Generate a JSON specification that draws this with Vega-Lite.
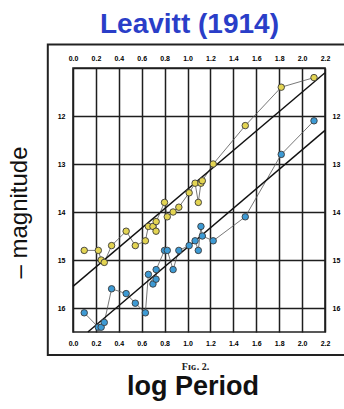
{
  "$schema": "https://vega.github.io/schema/vega-lite/v6.json",
  "width": 252,
  "height": 264,
  "autosize": {"type": "none"},
  "padding": {"left": 73, "top": 68, "right": 19, "bottom": 77},
  "background": "white",
  "title": {"text": "log Period", "orient": "bottom", "font": "Liberation Sans", "fontSize": 27, "fontWeight": "bold", "color": "#111", "dx": -6, "offset": 3},
  "config": {"view": {"stroke": "#222", "strokeWidth": 1.6}},
  "datasets": {
    "frame": [{"x1": -0.22, "x2": 2.45, "y1": 10.51, "y2": 16.98}],
    "stars": [
      {"logP": 0.098, "mag": 14.8, "kind": "max"},
      {"logP": 0.221, "mag": 14.8, "kind": "max"},
      {"logP": 0.246, "mag": 15.0, "kind": "max"},
      {"logP": 0.273, "mag": 15.05, "kind": "max"},
      {"logP": 0.337, "mag": 14.7, "kind": "max"},
      {"logP": 0.464, "mag": 14.4, "kind": "max"},
      {"logP": 0.544, "mag": 14.7, "kind": "max"},
      {"logP": 0.632, "mag": 14.6, "kind": "max"},
      {"logP": 0.658, "mag": 14.3, "kind": "max"},
      {"logP": 0.698, "mag": 14.3, "kind": "max"},
      {"logP": 0.725, "mag": 14.4, "kind": "max"},
      {"logP": 0.726, "mag": 14.2, "kind": "max"},
      {"logP": 0.799, "mag": 13.8, "kind": "max"},
      {"logP": 0.823, "mag": 14.1, "kind": "max"},
      {"logP": 0.874, "mag": 14.0, "kind": "max"},
      {"logP": 0.924, "mag": 13.9, "kind": "max"},
      {"logP": 1.014, "mag": 13.6, "kind": "max"},
      {"logP": 1.066, "mag": 13.4, "kind": "max"},
      {"logP": 1.094, "mag": 13.8, "kind": "max"},
      {"logP": 1.117, "mag": 13.4, "kind": "max"},
      {"logP": 1.129, "mag": 13.35, "kind": "max"},
      {"logP": 1.224, "mag": 13.0, "kind": "max"},
      {"logP": 1.504, "mag": 12.2, "kind": "max"},
      {"logP": 1.818, "mag": 11.4, "kind": "max"},
      {"logP": 2.104, "mag": 11.2, "kind": "max"},
      {"logP": 0.098, "mag": 16.1, "kind": "min"},
      {"logP": 0.221, "mag": 16.4, "kind": "min"},
      {"logP": 0.246, "mag": 16.4, "kind": "min"},
      {"logP": 0.273, "mag": 16.3, "kind": "min"},
      {"logP": 0.337, "mag": 15.6, "kind": "min"},
      {"logP": 0.464, "mag": 15.7, "kind": "min"},
      {"logP": 0.544, "mag": 15.9, "kind": "min"},
      {"logP": 0.632, "mag": 16.1, "kind": "min"},
      {"logP": 0.658, "mag": 15.3, "kind": "min"},
      {"logP": 0.698, "mag": 15.5, "kind": "min"},
      {"logP": 0.725, "mag": 15.4, "kind": "min"},
      {"logP": 0.726, "mag": 15.2, "kind": "min"},
      {"logP": 0.799, "mag": 14.8, "kind": "min"},
      {"logP": 0.823, "mag": 14.8, "kind": "min"},
      {"logP": 0.874, "mag": 15.2, "kind": "min"},
      {"logP": 0.924, "mag": 14.8, "kind": "min"},
      {"logP": 1.014, "mag": 14.7, "kind": "min"},
      {"logP": 1.066, "mag": 14.6, "kind": "min"},
      {"logP": 1.094, "mag": 14.8, "kind": "min"},
      {"logP": 1.117, "mag": 14.3, "kind": "min"},
      {"logP": 1.129, "mag": 14.5, "kind": "min"},
      {"logP": 1.224, "mag": 14.6, "kind": "min"},
      {"logP": 1.504, "mag": 14.1, "kind": "min"},
      {"logP": 1.818, "mag": 12.8, "kind": "min"},
      {"logP": 2.104, "mag": 12.1, "kind": "min"}
    ],
    "fits": [
      {"x": 0, "m": 15.55, "fit": "max"},
      {"x": 2.2, "m": 11.1, "fit": "max"},
      {"x": 0.13, "m": 16.5, "fit": "min"},
      {"x": 2.2, "m": 12.3, "fit": "min"}
    ]
  },
  "layer": [
    {
      "data": {"name": "frame"},
      "mark": {"type": "rect", "fill": "transparent", "stroke": "#222", "strokeWidth": 2, "clip": false},
      "encoding": {
        "x": {"field": "x1", "type": "quantitative",
          "scale": {"domain": [0, 2.2], "nice": false, "zero": false},
          "axis": {"orient": "top", "values": [0, 0.2, 0.4, 0.6, 0.8, 1, 1.2, 1.4, 1.6, 1.8, 2, 2.2], "format": ".1f",
            "grid": true, "gridColor": "#1e1e1e", "gridWidth": 1.5, "gridOpacity": 1, "ticks": false, "domain": false,
            "labelFont": "Liberation Sans", "labelFontSize": 7, "labelFontWeight": "bold", "labelColor": "#000", "labelPadding": 7, "labelFlush": false,
            "title": "Leavitt (1914)", "titleFont": "Liberation Sans", "titleFontSize": 28, "titleFontWeight": "bold", "titleColor": "#2a3ec8", "titlePadding": 16, "titleX": 116}},
        "x2": {"field": "x2"},
        "y": {"field": "y1", "type": "quantitative",
          "scale": {"domain": [11, 16.5], "reverse": true, "nice": false, "zero": false},
          "axis": {"orient": "left", "values": [11, 11.5, 12, 12.5, 13, 13.5, 14, 14.5, 15, 15.5, 16, 16.5], "format": "d",
            "labelExpr": "datum.value >= 12 && datum.value <= 16 && datum.value % 1 == 0 ? datum.label : ''",
            "grid": true, "gridColor": "#1e1e1e", "gridWidth": 1.5, "gridOpacity": 1, "ticks": false, "domain": false,
            "labelFont": "Liberation Sans", "labelFontSize": 7, "labelFontWeight": "bold", "labelColor": "#000", "labelPadding": 8, "labelFlush": false,
            "title": "– magnitude", "titleFont": "Liberation Sans", "titleFontSize": 24, "titleFontWeight": "normal", "titleColor": "#111", "titlePadding": 26, "titleY": 144}},
        "y2": {"field": "y2"}
      }
    },
    {
      "data": {"name": "stars"},
      "mark": {"type": "line", "stroke": "#555", "strokeWidth": 0.8},
      "encoding": {
        "x": {"field": "logP", "type": "quantitative",
          "axis": {"orient": "bottom", "values": [0, 0.2, 0.4, 0.6, 0.8, 1, 1.2, 1.4, 1.6, 1.8, 2, 2.2], "format": ".1f",
            "grid": false, "ticks": false, "domain": false,
            "labelFont": "Liberation Sans", "labelFontSize": 7, "labelFontWeight": "bold", "labelColor": "#000", "labelPadding": 7, "labelFlush": false,
            "title": "Fɪɢ. 2.", "titleFont": "Liberation Serif", "titleFontSize": 10, "titleFontWeight": "bold", "titleColor": "#222", "titlePadding": 15, "titleX": 122}},
        "y": {"field": "mag", "type": "quantitative",
          "axis": {"orient": "right", "values": [12, 13, 14, 15, 16], "format": "d",
            "grid": false, "ticks": false, "domain": false,
            "labelFont": "Liberation Sans", "labelFontSize": 7, "labelFontWeight": "bold", "labelColor": "#000", "labelPadding": 7, "labelFlush": false,
            "title": null}},
        "detail": {"field": "kind"}
      }
    },
    {
      "data": {"name": "fits"},
      "mark": {"type": "line", "stroke": "#111", "strokeWidth": 1.4},
      "encoding": {
        "x": {"field": "x", "type": "quantitative", "axis": null},
        "y": {"field": "m", "type": "quantitative", "axis": null},
        "detail": {"field": "fit"}
      }
    },
    {
      "data": {"name": "stars"},
      "mark": {"type": "point", "filled": true, "shape": "circle", "size": 42, "stroke": "#3a3a3a", "strokeWidth": 0.9, "opacity": 1},
      "encoding": {
        "x": {"field": "logP", "type": "quantitative", "axis": null},
        "y": {"field": "mag", "type": "quantitative", "axis": null},
        "color": {"field": "kind", "type": "nominal", "scale": {"domain": ["max", "min"], "range": ["#e3d452", "#3d9ad4"]}, "legend": null}
      }
    }
  ],
  "resolve": {"axis": {"x": "independent", "y": "independent"}}
}
